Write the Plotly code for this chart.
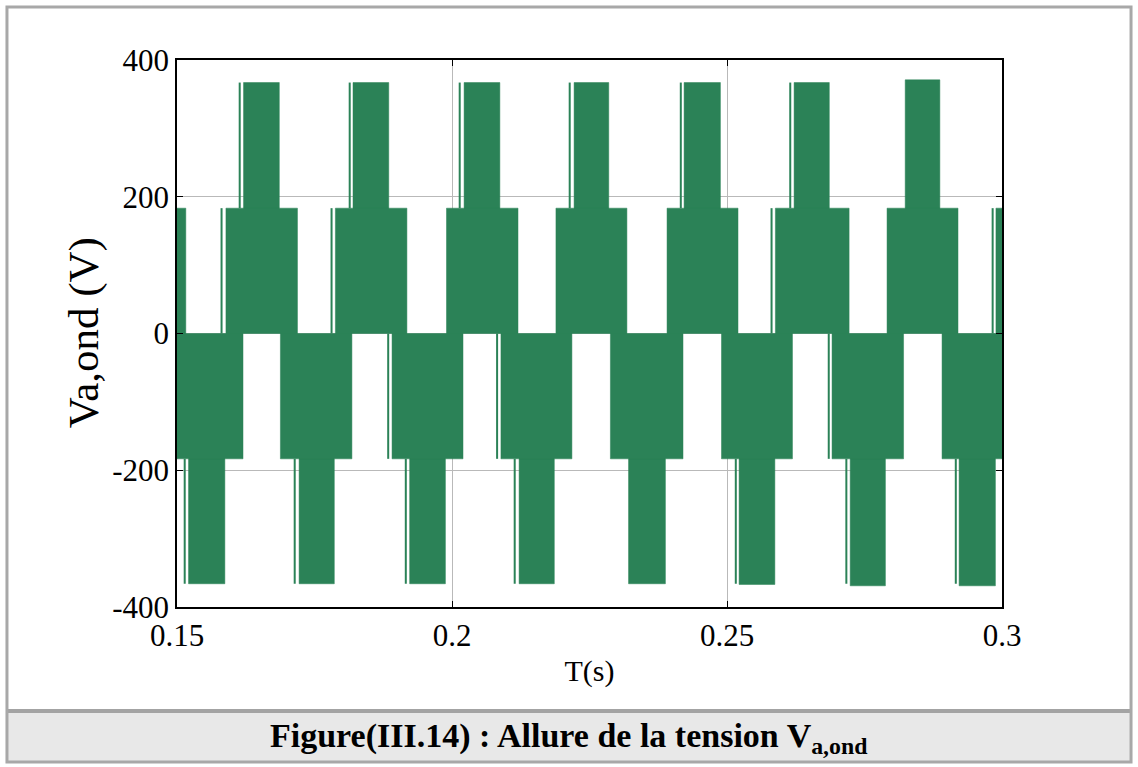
import plotly.graph_objects as go

# switching levels of the phase voltage (V)
v_mid = 183.3

# envelopes of the PWM blocks (s)
pos_lo_start = [0.1500, 0.1589, 0.1788, 0.1990, 0.2189, 0.2391, 0.2588, 0.2791, 0.2989]
pos_lo_end = [0.1516, 0.1719, 0.1918, 0.2120, 0.2318, 0.2520, 0.2722, 0.2920, 0.3000]
pos_hi_start = [0.1621, 0.1820, 0.2022, 0.2222, 0.2422, 0.2622, 0.2824]
pos_hi_end = [0.1686, 0.1885, 0.2087, 0.2285, 0.2488, 0.2686, 0.2887]
pos_hi_peak = [367, 367, 367, 367, 367, 367, 371]

neg_lo_start = [0.1500, 0.1688, 0.1891, 0.2089, 0.2288, 0.2490, 0.2691, 0.2891]
neg_lo_end = [0.1620, 0.1818, 0.2020, 0.2218, 0.2420, 0.2619, 0.2821, 0.3000]
neg_hi_start = [0.1521, 0.1722, 0.1923, 0.2122, 0.2321, 0.2522, 0.2724, 0.2922]
neg_hi_end = [0.1587, 0.1786, 0.1988, 0.2186, 0.2388, 0.2587, 0.2788, 0.2988]
neg_hi_peak = [-366, -366, -366, -366, -366, -367, -369, -369]

# isolated single pulses just before the blocks
pos_hi_spikes = [0.1614, 0.1814, 0.2014, 0.2214, 0.2416, 0.2615]
pos_lo_spikes = [0.1581, 0.1781, 0.2581, 0.2983]
neg_lo_spikes = [0.1884, 0.2082, 0.2685]
neg_hi_spikes = [0.1514, 0.1714, 0.1916, 0.2114, 0.2516, 0.2717, 0.2916]

y_ticks = [-400, -200, 0, 200, 400]
y_ticktext = ["-400", "-200", "0", "200", "400"]
x_ticks = [0.15, 0.2, 0.25, 0.3]
x_ticktext = ["0.15", "0.2", "0.25", "0.3"]

green = "#2b8257"
serif = "Liberation Serif, Times New Roman, serif"

# build rectangles (one polygon per block)
bx, by = [], []


def add_block(t0, t1, lo, hi):
    bx.extend([t0, t0, t1, t1, t0, None])
    by.extend([lo, hi, hi, lo, lo, None])


for s, e in zip(pos_lo_start, pos_lo_end):
    add_block(s, e, 0, v_mid)
for s, e, p in zip(pos_hi_start, pos_hi_end, pos_hi_peak):
    add_block(s, e, v_mid, p)
for s, e in zip(neg_lo_start, neg_lo_end):
    add_block(s, e, -v_mid, 0)
for s, e, p in zip(neg_hi_start, neg_hi_end, neg_hi_peak):
    add_block(s, e, p, -v_mid)

sx, sy = [], []
for t in pos_hi_spikes:
    sx += [t, t, None]; sy += [v_mid, 367, None]
for t in pos_lo_spikes:
    sx += [t, t, None]; sy += [0, v_mid, None]
for t in neg_lo_spikes:
    sx += [t, t, None]; sy += [-v_mid, 0, None]
for t in neg_hi_spikes:
    sx += [t, t, None]; sy += [-366, -v_mid, None]

fig = go.Figure()

fig.add_trace(go.Scatter(
    x=bx, y=by, mode="lines", fill="toself",
    fillcolor=green, line=dict(color=green, width=0.5),
    hoverinfo="skip", showlegend=False
))
fig.add_trace(go.Scatter(
    x=sx, y=sy, mode="lines",
    line=dict(color=green, width=2),
    hoverinfo="skip", showlegend=False
))

fig.update_xaxes(
    range=[0.15, 0.3],
    tickvals=x_ticks, ticktext=x_ticktext,
    showgrid=True, gridcolor="#b9b9b9", gridwidth=1,
    zeroline=False,
    showline=True, linecolor="black", linewidth=1.5, mirror="ticks",
    ticks="inside", ticklen=6, tickcolor="black",
    tickfont=dict(family=serif, size=31, color="black"),
    title=dict(text="T(s)", font=dict(family=serif, size=30, color="black"), standoff=8)
)
fig.update_yaxes(
    range=[-400, 400],
    tickvals=y_ticks, ticktext=y_ticktext,
    showgrid=True, gridcolor="#b9b9b9", gridwidth=1,
    zeroline=False,
    showline=True, linecolor="black", linewidth=1.5, mirror="ticks",
    ticks="inside", ticklen=6, tickcolor="black",
    tickfont=dict(family=serif, size=31, color="black"),
)

# plot area spans roughly x 177..1002, y 60..607 px
fig.update_layout(
    width=1138, height=767,
    margin=dict(l=177, r=136, t=60, b=160),
    paper_bgcolor="white", plot_bgcolor="white",
    font=dict(family=serif, color="black"),
    shapes=[
        # caption band
        dict(type="rect", xref="paper", yref="paper",
             x0=-0.2061, x1=1.1564, y0=-0.2834, y1=-0.1901,
             fillcolor="#e8e8e8", line=dict(width=0)),
        dict(type="line", xref="paper", yref="paper",
             x0=-0.2061, x1=1.1564, y0=-0.1901, y1=-0.1901,
             line=dict(color="#a3a3a3", width=4)),
        # outer frame
        dict(type="rect", xref="paper", yref="paper",
             x0=-0.2061, x1=1.1564, y0=-0.2834, y1=1.0969,
             line=dict(color="#a8a8a8", width=3)),
    ],
    annotations=[
        dict(text="Va,ond (V)", textangle=-90,
             xref="paper", yref="paper", x=-0.1125, y=0.501,
             xanchor="center", yanchor="middle", showarrow=False,
             font=dict(family=serif, size=43, color="black")),
        dict(text="<b>Figure(III.14) : Allure de la tension V<sub>a,ond</sub></b>",
             xref="paper", yref="paper", x=0.475, y=-0.2395,
             xanchor="center", yanchor="middle", showarrow=False,
             font=dict(family=serif, size=34, color="black")),
    ],
)

fig.write_html("out.html", config={"displayModeBar": False},
               post_script="document.body.style.margin='0';")
